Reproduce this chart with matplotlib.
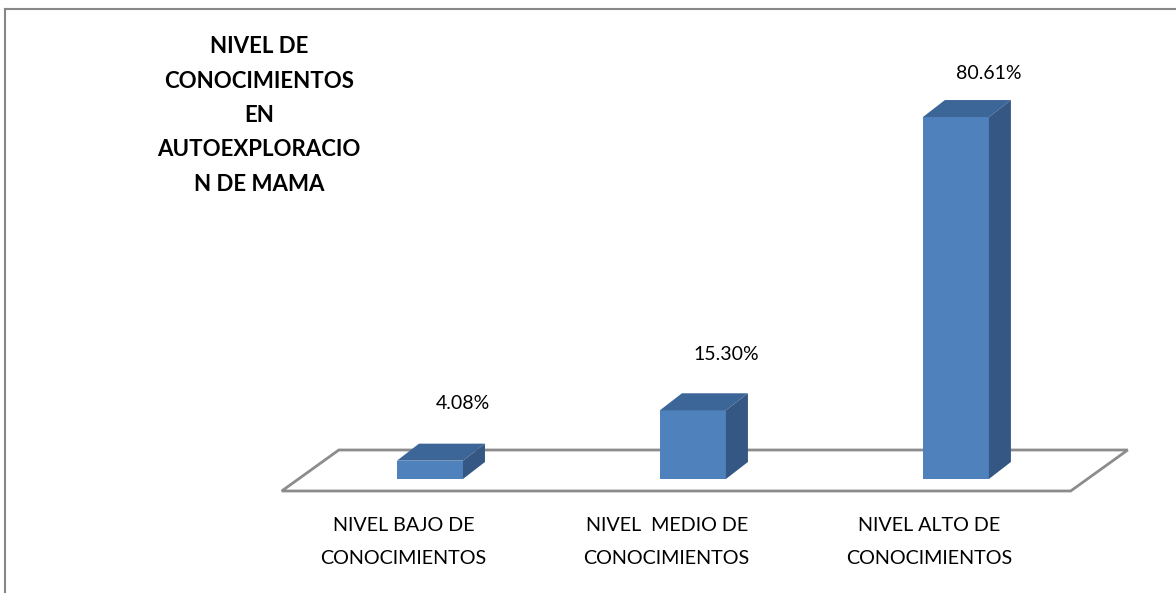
import matplotlib
matplotlib.use("Agg")
import matplotlib.pyplot as plt
from matplotlib.patches import Polygon

categories = ["NIVEL BAJO DE\nCONOCIMIENTOS",
              "NIVEL  MEDIO DE\nCONOCIMIENTOS",
              "NIVEL ALTO DE\nCONOCIMIENTOS"]
values = [4.08, 15.30, 80.61]
labels = ["4.08%", "15.30%", "80.61%"]
title = "NIVEL DE\nCONOCIMIENTOS\nEN\nAUTOEXPLORACIO\nN DE MAMA"

FRONT = "#4F81BD"
TOP = "#3D6698"
SIDE = "#345783"
FLOOR = "#8C8C8C"

plt.rcParams["font.family"] = ["Lato", "DejaVu Sans"]

W, H = 1176, 593
fig = plt.figure(figsize=(W / 100, H / 100), dpi=100)
ax = fig.add_axes([0, 0, 1, 1])
# category units on x, percent on y
ax.set_xlim(-1.635, 2.837)
ax.set_ylim(-25.39, 106.68)
ax.axis("off")

bar_w = 0.251
ddx, ddy = 0.0837, 3.79      # bar depth offset
fdx, fdy = 0.217, 9.13       # floor depth offset
gap = 2.67                   # floor front edge below bar front
n = len(values)

# floor
x0 = -0.5 - 0.0635
x1 = n - 0.5 - 0.0635
floor = [(x0, -gap), (x1, -gap), (x1 + fdx, -gap + fdy), (x0 + fdx, -gap + fdy)]
ax.add_patch(Polygon(floor, closed=True, facecolor="white", edgecolor=FLOOR,
                     linewidth=2, zorder=1))

for i, v in enumerate(values):
    l, r = i - bar_w / 2, i + bar_w / 2
    ax.add_patch(Polygon([(l, 0), (r, 0), (r, v), (l, v)], closed=True,
                         facecolor=FRONT, edgecolor="none", zorder=3))
    ax.add_patch(Polygon([(l, v), (r, v), (r + ddx, v + ddy), (l + ddx, v + ddy)],
                         closed=True, facecolor=TOP, edgecolor="none", zorder=3))
    ax.add_patch(Polygon([(r, 0), (r + ddx, ddy), (r + ddx, v + ddy), (r, v)],
                         closed=True, facecolor=SIDE, edgecolor="none", zorder=3))
    ax.text(i + 0.125, v + 13.0 - 0.04 * v, labels[i], ha="center", va="center",
            fontsize=14, color="black")
    ax.text(i - 0.1, -14.0, categories[i], ha="center", va="center",
            fontsize=14.2, linespacing=2.1, color="black")

fig.text(259 / W, 1 - 115.5 / H, title, ha="center", va="center",
         fontsize=16, fontweight="bold", linespacing=1.78, multialignment="center")

# chart border (top and left visible)
fig.add_artist(plt.Line2D([5 / W, 1.0], [1 - 9 / H, 1 - 9 / H],
                          color="#878787", linewidth=1.5, transform=fig.transFigure))
fig.add_artist(plt.Line2D([5 / W, 5 / W], [0.0, 1 - 9 / H],
                          color="#878787", linewidth=1.5, transform=fig.transFigure))

fig.savefig("out.png", dpi=100)
